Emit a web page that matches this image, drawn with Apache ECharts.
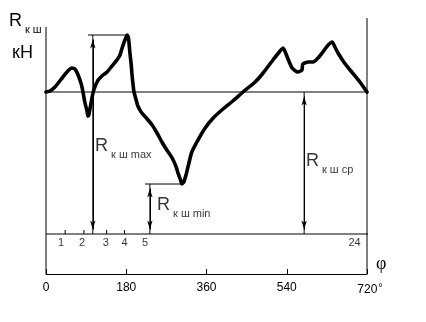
<!DOCTYPE html>
<html>
<head>
<meta charset="utf-8">
<script src="https://cdn.jsdelivr.net/npm/echarts@6/dist/echarts.min.js"></script>
<style>
  html, body { margin: 0; padding: 0; background: #fff; }
  #chart { width: 426px; height: 322px; }
</style>
</head>
<body>
<div id="chart"></div>
<script>
// Connecting-rod journal load over one working cycle: [crank angle φ (deg), load]
const loadCurve = [
  [0,142],[9,143],[20,147],[38,157],[49,163],[58,166],[65,165],[72,159],[79,150],
  [83,142],[87,132],[92,123],[94,118],[96,119],[99,126],[103,136],[108,145],[117,154],
  [128,159],[137,162],[148,168],[159,174],[166,179],[170,185],[177,194],[182,199],
  [185,196],[188,182],[191,170],[193,159],[197,143],[201,136],[206,128],[215,121],
  [227,115],[238,109],[249,101],[260,92],[271,84],[283,76],[292,67],[296,61],[301,55],
  [305,50],[309,52],[314,59],[319,68],[327,82],[341,94],[357,106],[375,116],[397,125],
  [419,133],[442,142],[469,152],[487,161],[509,174],[525,183],[532,186],[541,177],
  [552,166],[565,162],[574,164],[576,170],[588,172],[599,172],[610,176],[621,182],
  [633,189],[642,192],[648,187],[655,181],[668,172],[682,164],[704,152],[720,142]
];
const loadMean = 142;          // R кш ср
const loadMax = [182, 199];    // R кш max at its angle
const loadMin = [305, 50];     // R кш min at its angle

// angle axis
const angleTicks = [0, 180, 360, 540, 720];
// crank position marks along the zero line
const positionLabels = ['1', '2', '3', '4', '5', '24'];
const positionLabelAngles = [34, 81, 134, 176, 222, 692];
const positionTickAngles = [43, 85, 136, 176];

// where each dimension arrow stands
const maxArrowAngle = 105;
const minArrowAngle = 233;
const meanArrowAngle = 579;

const FONT = '"Liberation Sans", Arial, sans-serif';
const BLACK = '#000';

const subRich = {
  r: { fontSize: 18, fontFamily: FONT, color: BLACK, lineHeight: 28, verticalAlign: 'middle' },
  s: { fontSize: 11, fontFamily: FONT, color: BLACK, lineHeight: 11, verticalAlign: 'bottom', padding: [0, 0, 0, 3] }
};

// a thin straight helper line through the chart's own axes
function segment(points) {
  return {
    type: 'line', data: points, symbol: 'none', clip: false, silent: true,
    lineStyle: { color: BLACK, width: 1 }, z: 3
  };
}

const frameLines = [
  segment([[0, -40], [0, 207]]),                    // left border
  segment([[720, -40], [720, 216]]),                // right border
  segment([[0, loadMean], [852, loadMean]]),        // mean load level
  segment([[0, 0], [812, 0]]),                      // zero load level
  segment([[94, loadMax[1]], loadMax]),             // max level lead
  segment([[222, loadMin[1]], loadMin]),            // min level lead
  segment([[maxArrowAngle, 0], [maxArrowAngle, loadMax[1]]]),
  segment([[minArrowAngle, 0], [minArrowAngle, loadMin[1]]]),
  segment([[meanArrowAngle, 0], [meanArrowAngle, loadMean]])
];

positionTickAngles.forEach(a => frameLines.push(segment([[a, 0], [a, 4]])));

// double-headed dimension arrows (heads are centred on the segment ends)
const arrowHalf = 4.5;
function arrowPair(angle, top) {
  return [{ coord: [angle, arrowHalf] }, { coord: [angle, top - arrowHalf] }];
}

const annotations = [];
positionLabels.forEach((t, i) => {
  annotations.push({
    value: [positionLabelAngles[i], -8.5],
    label: { show: true, position: 'inside', formatter: t, fontSize: 11, fontFamily: FONT, color: BLACK }
  });
});
const dimLabel = (angle, v, sub) => ({
  value: [angle, v],
  label: {
    show: true, position: 'right', distance: 0,
    formatter: '{r|R}{s|' + sub + '}', rich: subRich
  }
});
annotations.push(dimLabel(110, 88, 'к ш max'));
annotations.push(dimLabel(249, 29, 'к ш min'));
annotations.push(dimLabel(583, 73, 'к ш ср'));

const chart = echarts.init(document.getElementById('chart'), null, { renderer: 'canvas' });
chart.setOption({
  animation: false,
  backgroundColor: '#fff',
  grid: { left: 46, right: 59, top: 18, bottom: 48 },
  xAxis: {
    type: 'value', min: angleTicks[0], max: angleTicks[angleTicks.length - 1], interval: 180,
    axisLine: { onZero: false, lineStyle: { color: BLACK, width: 1 } },
    axisTick: { inside: true, length: 5, lineStyle: { color: BLACK, width: 1 } },
    splitLine: { show: false },
    axisLabel: {
      margin: 8, color: BLACK, fontFamily: FONT, fontSize: 12,
      formatter: v => v === 720 ? '{n|720}{d|°}' : String(v),
      rich: {
        n: { fontSize: 12, fontFamily: FONT, color: BLACK, padding: [0, 0, 0, 6] },
        d: { fontSize: 11, fontFamily: FONT, color: BLACK, verticalAlign: 'top', padding: [0, 0, 4, 1] }
      }
    }
  },
  yAxis: { type: 'value', min: -40, max: 216, show: false },
  graphic: [
    { type: 'text', left: 9, top: 12, style: { text: '{r|R}{s|к ш}', rich: subRich } },
    { type: 'text', left: 12, top: 44, style: { text: 'кН', font: '18px ' + FONT, fill: BLACK } },
    { type: 'text', left: 376, top: 255, style: { text: 'φ', font: '18px "Liberation Serif", "DejaVu Serif", serif', fill: BLACK } }
  ],
  series: [
    ...frameLines,
    {
      type: 'line', data: [], symbol: 'none', silent: true,
      markLine: {
        silent: true, symbol: ['arrow', 'arrow'], symbolSize: [4, 9],
        lineStyle: { color: BLACK, width: 1, type: 'solid' },
        label: { show: false },
        data: [
          arrowPair(maxArrowAngle, loadMax[1]),
          arrowPair(minArrowAngle, loadMin[1]),
          arrowPair(meanArrowAngle, loadMean)
        ]
      }
    },
    {
      type: 'line', data: loadCurve, smooth: 0.2, symbol: 'none', clip: false,
      lineStyle: { color: BLACK, width: 3.6, cap: 'round', join: 'round' }, z: 5
    },
    {
      type: 'scatter', data: annotations, symbolSize: 0, clip: false, silent: true, z: 6
    }
  ]
});
</script>
</body>
</html>
